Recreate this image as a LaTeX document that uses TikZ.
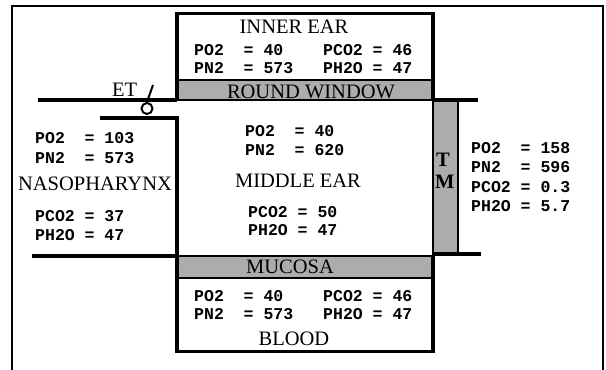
\documentclass[tikz,border=0pt]{standalone}
\usepackage{fontspec}
\setmainfont{Liberation Serif}
\newfontfamily\monofam{Liberation Mono}
\tikzset{
  wall/.style={line width=3.4pt},
  frameline/.style={line width=2.2pt},
  tissue/.style={fill=gray!65, draw=black, line width=1.5pt},
  gas/.style={anchor=base west, inner sep=0pt, font=\monofam\bfseries\fontsize{16.5}{18}\selectfont},
  lbl/.style={anchor=base, inner sep=0pt, font=\fontsize{20.5}{22}\selectfont},
}
\begin{document}
\begin{tikzpicture}[x=1pt,y=-1pt]
\useasboundingbox (0,0) rectangle (606,370);
% outer frame
\draw[frameline] (12,370) -- (12,6) -- (603,6) -- (603,370);
% tissues
\draw[tissue] (177,80) rectangle (433,100);
\draw[tissue] (177,256) rectangle (433,278);
\draw[tissue, line width=2.2pt] (433,100) rectangle (458,254);
% walls
\draw[wall] (177,100) -- (177,13.5) -- (433,13.5) -- (433,100);
\draw[wall] (38,100) -- (177,100);
\draw[wall] (433,100) -- (478,100);
\draw[wall] (100,118) -- (177,118) -- (177,256);
\draw[wall] (32,256) -- (177,256);
\draw[wall] (433,254) -- (481,254);
\draw[wall] (177,256) -- (177,351.5) -- (433,351.5) -- (433,256);
% ET valve
\node[circle, draw, line width=2pt, minimum size=11pt, inner sep=0pt] (valve) at (147,108.5) {};
\coordinate (ettip) at (153,85);
\draw[line width=2pt] (valve.north) -- (ettip);
\node[anchor=base west, inner sep=0pt, font=\fontsize{20.5}{22}\selectfont] (et) at (112,96) {ET};
% inner ear
\node[lbl] (inner) at (294,33) {INNER EAR};
\node[gas] (ie1) at (194,55) {PO2\ \ = 40};
\node[gas] (ie2) at (194,73) {PN2\ \ = 573};
\node[gas] (ie3) at (323,55) {PCO2 = 46};
\node[gas] (ie4) at (323,73) {PH2O = 47};
\node[lbl] (rw) at (311,98) {ROUND WINDOW};
% middle ear
\node[gas] (me1) at (245,136) {PO2\ \ = 40};
\node[gas] (me2) at (245,155) {PN2\ \ = 620};
\node[lbl] (middle) at (298,187) {MIDDLE EAR};
\node[gas] (me3) at (248,217) {PCO2 = 50};
\node[gas] (me4) at (248,235) {PH2O = 47};
% nasopharynx
\node[gas] (np1) at (35,143) {PO2\ \ = 103};
\node[gas] (np2) at (35,163) {PN2\ \ = 573};
\node[lbl] (naso) at (95,190) {NASOPHARYNX};
\node[gas] (np3) at (35,221) {PCO2 = 37};
\node[gas] (np4) at (35,240) {PH2O = 47};
% tympanic membrane
\node[anchor=base west, inner sep=0pt, font=\bfseries\fontsize{20.5}{22}\selectfont] (tmt) at (436,166) {T};
\node[anchor=base west, inner sep=0pt, font=\bfseries\fontsize{20.5}{22}\selectfont] (tmm) at (435,188) {M};
% atmosphere
\node[gas] (at1) at (471,153) {PO2\ \ = 158};
\node[gas] (at2) at (471,172) {PN2\ \ = 596};
\node[gas] (at3) at (471,192) {PCO2 = 0.3};
\node[gas] (at4) at (471,211) {PH2O = 5.7};
% mucosa and blood
\node[lbl] (muc) at (290,273) {MUCOSA};
\node[gas] (bl1) at (194,301) {PO2\ \ = 40};
\node[gas] (bl2) at (194,319) {PN2\ \ = 573};
\node[gas] (bl3) at (323,301) {PCO2 = 46};
\node[gas] (bl4) at (323,319) {PH2O = 47};
\node[lbl] (blood) at (294,345) {BLOOD};
\end{tikzpicture}
\end{document}
